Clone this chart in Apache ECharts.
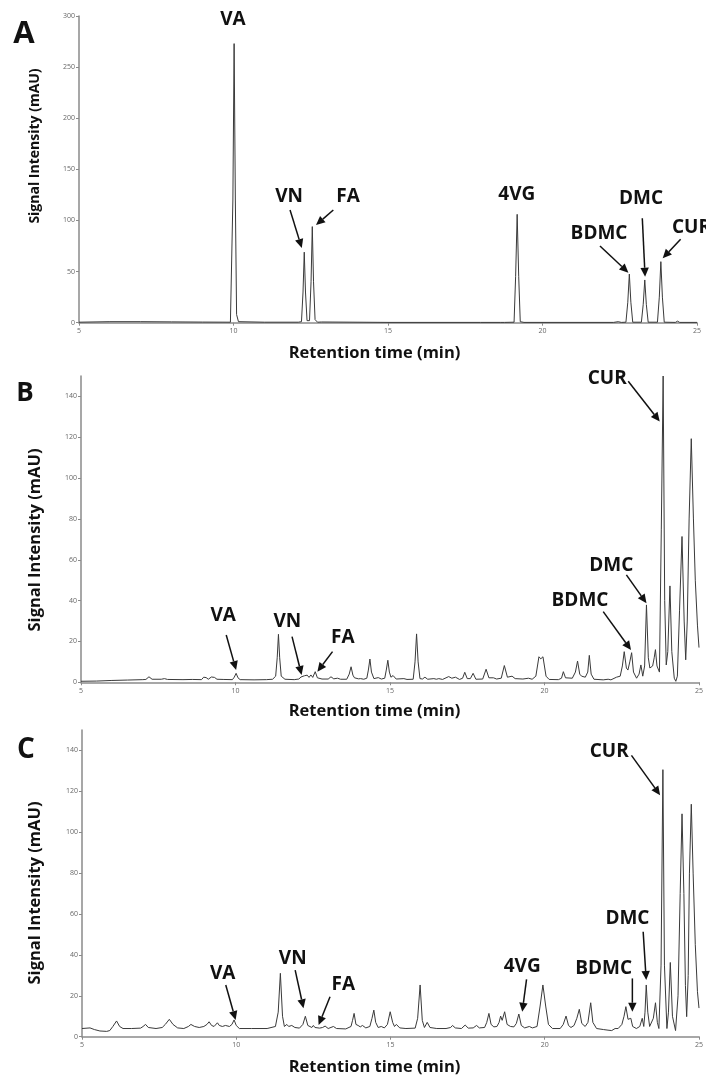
<!DOCTYPE html>
<html><head><meta charset="utf-8">
<script src="https://cdn.jsdelivr.net/npm/echarts@6/dist/echarts.min.js"></script>
<style>html,body{margin:0;padding:0;background:#fff}#c{width:706px;height:1076px}</style>
</head><body><div id="c"></div>
<script>
// ---------- tick labels ----------
const xTicks = [5, 10, 15, 20, 25];
const yTicksA = [0, 50, 100, 150, 200, 250, 300];
const yTicksBC = [0, 20, 40, 60, 80, 100, 120, 140];

// ---------- chromatogram traces [retention time (min), signal (mAU)] ----------
const traceA = [
  [5,0.5],[6,1],[7,1],[8,0.8],[9,0.6],[9.9,0.5],
  [9.94,2],[9.98,120],[10.02,273],[10.06,120],[10.1,8],[10.16,1],
  [11,0.5],[12.1,0.5],
  [12.2,1],[12.25,30],[12.29,69],[12.33,30],[12.38,2],
  [12.46,2],[12.51,40],[12.55,94],[12.59,40],[12.64,3],[12.72,0.5],[12.85,0.7],[12.9,0.3],
  [15,0.3],[18,0.3],[18.65,0.3],[18.71,1.5],[18.77,0.3],
  [19.08,0.5],[19.13,45],[19.18,106],[19.23,45],[19.28,1],[19.4,0.3],
  [22.3,0.3],[22.45,1],[22.55,0.3],
  [22.7,0.5],[22.76,20],[22.81,47.6],[22.86,20],[22.92,0.5],
  [23.2,0.5],[23.26,18],[23.31,41.8],[23.36,18],[23.42,0.5],
  [23.72,0.5],[23.78,25],[23.83,59.7],[23.88,25],[23.94,0.5],
  [24.3,0.3],[24.37,1.5],[24.44,0.3],[25,0.3]
];
const traceB = [
  [5,0.5],[5.5,0.6],[6,0.9],[6.5,1.1],[7,1.3],
  [7.1,1.4],[7.2,2.7],[7.3,1.5],[7.6,1.5],[7.7,1.8],[7.8,1.4],[8.3,1.3],[8.6,1.4],[8.9,1.3],
  [8.97,2.5],[9.01,1.6],[9.05,2.3],[9.12,1.5],[9.22,2.6],[9.27,1.8],[9.32,2.4],[9.4,1.5],[9.6,1.4],[9.9,1.3],
  [9.96,2.5],[10.02,4.4],[10.08,2.2],[10.15,1.3],[10.6,1.2],[11,1.3],[11.2,1.5],[11.3,3],
  [11.35,12],[11.39,23.5],[11.43,12],[11.48,3],[11.6,1.5],[11.9,1.3],[12.05,1.6],
  [12.12,2.6],[12.17,1.8],[12.23,3.2],[12.28,2.3],[12.32,3.5],[12.38,2.4],[12.44,3.6],[12.5,2.4],
  [12.58,5.2],[12.65,2.2],[12.8,1.6],
  [13.0,1.6],[13.09,2.7],[13.18,1.7],[13.3,2],[13.4,1.5],[13.6,1.5],[13.68,4],[13.74,7.6],[13.8,3.5],
  [13.85,2.2],[13.91,2.5],[13.98,1.7],[14.05,1.8],[14.15,1.5],[14.25,2],
  [14.3,6],[14.35,11.4],[14.4,5],[14.48,1.8],[14.62,2.3],[14.72,1.6],[14.83,2],[14.88,6],[14.93,10.8],
  [14.98,5],[15.03,2.5],[15.1,3.3],[15.2,1.6],[15.45,1.8],[15.55,1.4],[15.75,1.5],
  [15.81,10],[15.86,23.7],[15.91,10],[15.97,1.8],[16.05,1.6],[16.13,2.5],[16.22,1.5],[16.42,1.8],
  [16.5,1.5],[16.58,1.8],[16.7,1.4],[16.9,2.8],[17.0,2],[17.12,2.5],[17.25,1.4],[17.35,2],[17.42,4.9],
  [17.5,1.8],[17.6,1.8],[17.69,4.4],[17.78,1.5],[18.0,1.6],[18.11,6.4],[18.2,2.2],[18.35,2.2],
  [18.45,1.6],[18.6,2],[18.7,8.2],[18.8,2.5],[18.95,3],[19.05,1.8],[19.3,1.6],[19.48,2],[19.6,1.5],
  [19.72,3],[19.82,12.5],[19.88,11.5],[19.95,12.5],[20.05,3],[20.15,1.4],[20.45,1.3],[20.55,2],
  [20.61,5.2],[20.68,2.2],[20.9,2],[21.0,5],[21.07,10.4],[21.14,4],[21.2,3],[21.26,3.3],[21.32,2.5],
  [21.4,5],[21.45,13.2],[21.51,4],[21.6,1.5],[21.9,1.2],[22.06,1.5],[22.15,1.2],[22.33,2.5],
  [22.45,3],[22.52,8],[22.58,15],[22.65,7],[22.7,6],[22.76,10],[22.82,14.5],[22.88,5],[22.98,2],
  [23.06,4],[23.12,8.5],[23.18,3],[23.24,8],[23.3,37.9],[23.36,12],[23.41,7],[23.44,7.5],[23.5,8],
  [23.55,12],[23.59,16],[23.64,8],[23.72,5],[23.78,75],[23.84,150],[23.89,40],[23.94,8.5],
  [23.99,15],[24.06,47.2],[24.12,15],[24.2,2],[24.25,0.5],[24.3,3],[24.37,35],[24.45,71.4],
  [24.52,30],[24.57,11],[24.62,30],[24.68,80],[24.75,119.3],[24.82,80],[24.88,50],[24.95,28],[25,17]
];
const traceC = [
  [5,4],[5.26,4.3],[5.4,3.5],[5.58,2.8],[5.8,2.6],[5.9,3],[6.0,5],[6.12,7.7],[6.22,5],[6.33,4],
  [6.6,4],[6.9,4.2],[6.98,5],[7.06,6],[7.15,4.5],[7.4,4],[7.6,4.5],[7.7,6],[7.83,8.5],[7.95,6],
  [8.1,4.3],[8.3,4],[8.45,5],[8.53,6],[8.65,5],[8.8,4.5],[8.95,5],[9.05,6],[9.12,7.3],[9.2,5.5],
  [9.28,5],[9.34,5.8],[9.39,6.8],[9.45,5.5],[9.55,5],[9.65,5.5],[9.71,6],[9.78,5],[9.86,6],
  [9.93,8.2],[10.0,5.5],[10.1,4],[10.5,4],[11.0,4],[11.27,5],[11.36,12],[11.43,31],[11.5,10],
  [11.56,5],[11.64,6],[11.7,5],[11.8,5.5],[11.9,4.5],[12.05,4.2],[12.16,6],[12.24,10],[12.32,5.5],
  [12.45,4.5],[12.5,5.5],[12.55,4.5],[12.61,5],[12.7,4.2],[12.8,4.5],[12.88,5.2],[12.98,4],
  [13.15,5],[13.25,4],[13.55,3.8],[13.72,5],[13.77,8],[13.82,11.4],[13.88,6],[13.95,5.5],
  [14.02,4.8],[14.09,5.5],[14.2,4.3],[14.33,5],[14.4,9],[14.46,13],[14.52,7],[14.6,4.5],[14.7,5],
  [14.8,4.3],[14.9,6],[14.99,12.2],[15.07,7],[15.13,5],[15.19,6],[15.3,4.3],[15.5,4],[15.8,4.2],
  [15.88,9],[15.96,25.3],[16.03,8],[16.1,4.5],[16.19,7],[16.28,4.5],[16.5,4],[16.8,4],[16.95,4.5],
  [17.01,5.5],[17.1,4.3],[17.3,4],[17.42,5.7],[17.52,4.2],[17.68,4.3],[17.79,5.5],[17.88,4.3],
  [18.05,4.5],[18.12,7],[18.19,11.4],[18.26,6],[18.35,4.8],[18.45,5],[18.52,7],[18.57,10.1],
  [18.62,8],[18.7,12.2],[18.78,6],[18.89,5],[19.0,4.8],[19.08,6.5],[19.16,11.1],[19.24,5.5],
  [19.35,4.3],[19.5,5],[19.6,4.3],[19.75,5],[19.85,15],[19.94,25.3],[20.03,15],[20.12,6],
  [20.25,4],[20.5,4],[20.6,6],[20.69,10.1],[20.77,5.5],[20.85,4.5],[20.95,5.5],[21.04,9],
  [21.12,13.4],[21.2,6.5],[21.31,5],[21.4,7],[21.49,16.6],[21.56,7],[21.68,4],[21.9,3.5],
  [22.05,3.2],[22.17,3],[22.28,4],[22.38,4],[22.5,6],[22.57,10],[22.63,14.7],[22.7,8.5],
  [22.74,8],[22.79,9],[22.85,5],[22.97,4],[23.08,5],[23.16,9],[23.21,5],[23.25,12],[23.29,25.3],
  [23.34,12],[23.4,5],[23.45,5],[23.52,9],[23.59,16.6],[23.65,7],[23.7,4],[23.77,35],
  [23.83,130.6],[23.88,35],[23.96,4],[24.01,12],[24.07,36.3],[24.14,10],[24.24,3],[24.32,20],
  [24.39,70],[24.45,109],[24.51,70],[24.56,25],[24.6,9.8],[24.65,30],[24.69,80],[24.75,113.7],
  [24.81,80],[24.88,45],[24.95,22],[25,14]
];

// ---------- peak annotations (data coordinates) ----------
const labelsA = [
  ['VA',[9.98,296]],['VN',[11.80,123]],['FA',[13.71,123]],['4VG',[19.17,125]],
  ['BDMC',[21.83,86.8]],['DMC',[23.19,121]],['CUR',[24.19,92.6],'left']
];
const arrowsA = [
  [[11.83,110.2],[12.21,73.1]],[[13.23,110.2],[12.67,95.6]],
  [[21.86,75],[22.78,48.9]],[[23.23,102.1],[23.32,45]],[[24.47,81.6],[23.89,63]]
];
const labelsB = [
  ['VA',[9.6,32.7]],['VN',[11.68,29.6]],['FA',[13.47,22]],
  ['CUR',[22.03,148.7]],['DMC',[22.16,57.3]],['BDMC',[21.15,40.1]]
];
const arrowsB = [
  [[9.7,23.2],[10.02,6.0]],[[11.83,22.4],[12.14,3.6]],[[13.14,15],[12.65,5.2]],
  [[22.71,147.4],[23.73,127.7]],[[22.65,52.6],[23.3,38.7]],[[21.9,34.6],[22.8,15.8]]
];
const labelsC = [
  ['VA',[9.56,30.9]],['VN',[11.83,38.2]],['FA',[13.47,25.3]],['4VG',[19.27,34.3]],
  ['BDMC',[21.91,33.3]],['DMC',[22.68,58]],['CUR',[22.09,139.3]]
];
const arrowsC = [
  [[9.66,25.3],[9.98,8.2]],[[11.91,32.6],[12.18,13.9]],[[13.04,19.5],[12.67,5.7]],
  [[19.41,28],[19.27,12.2]],[[22.84,28.5],[22.84,12.2]],[[23.19,51.3],[23.29,27.7]],
  [[22.81,137.6],[23.74,118.1]]
];

const xTitle = 'Retention time (min)';
const yTitle = 'Signal Intensity (mAU)';

// ---------- chart ----------
const FONT = '"Open Sans", "Noto Sans", sans-serif';
const chart = echarts.init(document.getElementById('c'), null, {renderer: 'canvas'});

const grids = [
  {left: 79, right: 9, top: 16, height: 306.7},
  {left: 81, right: 5, top: 376, height: 306.3},
  {left: 82, right: 3, top: 730, height: 306.7}
];

function xAxis(i) {
  return {
    type: 'value', gridIndex: i, min: 5, max: 25, interval: 5,
    axisLine: {lineStyle: {color: '#8a8a8a', width: 1.5}},
    axisTick: {show: true, length: 3, lineStyle: {color: '#8a8a8a'}, customValues: xTicks},
    axisLabel: {fontSize: 7, color: '#666', margin: 5, fontFamily: FONT, customValues: xTicks},
    splitLine: {show: false}
  };
}
function yAxis(i, max, interval, ticks) {
  return {
    type: 'value', gridIndex: i, min: 0, max: max, interval: interval,
    axisLine: {show: true, lineStyle: {color: '#8a8a8a', width: 1.5}},
    axisTick: {show: true, length: 3, lineStyle: {color: '#8a8a8a'}, customValues: ticks},
    axisLabel: {fontSize: 7, color: '#666', margin: 4, fontFamily: FONT, customValues: ticks},
    splitLine: {show: false}
  };
}
function series(i, data) {
  return {
    type: 'line', xAxisIndex: i, yAxisIndex: i, data: data,
    showSymbol: false, symbol: 'none', smooth: false,
    lineStyle: {color: '#3a3a3a', width: 1}, animation: false
  };
}

chart.setOption({
  animation: false,
  backgroundColor: '#fff',
  grid: grids,
  xAxis: [xAxis(0), xAxis(1), xAxis(2)],
  yAxis: [yAxis(0, 300, 50, yTicksA), yAxis(1, 150, 20, yTicksBC), yAxis(2, 150, 20, yTicksBC)],
  series: [series(0, traceA), series(1, traceB), series(2, traceC)]
});

function txt(text, x, y, size, align, rot) {
  return {
    type: 'text', x: x, y: y, rotation: rot || 0, z: 100,
    style: {
      text: text, fill: '#111', fontSize: size, fontWeight: 'bold', fontFamily: FONT,
      align: align || 'center', verticalAlign: 'middle',
      textAlign: align || 'center', textVerticalAlign: 'middle'
    }
  };
}
function annot(gi, labels, arrows) {
  const out = [];
  labels.forEach(l => {
    const p = chart.convertToPixel({gridIndex: gi}, l[1]);
    out.push(txt(l[0], p[0], p[1], 19, l[2] || 'center'));
  });
  arrows.forEach(a => {
    const p1 = chart.convertToPixel({gridIndex: gi}, a[0]);
    const p2 = chart.convertToPixel({gridIndex: gi}, a[1]);
    const dx = p2[0] - p1[0], dy = p2[1] - p1[1], L = Math.hypot(dx, dy);
    const ux = dx / L, uy = dy / L, hl = 9, hw = 4.2;
    const bx = p2[0] - ux * hl, by = p2[1] - uy * hl;
    out.push({type: 'line', z: 100, shape: {x1: p1[0], y1: p1[1], x2: bx, y2: by},
      style: {stroke: '#111', lineWidth: 1.5}});
    out.push({type: 'polygon', z: 100,
      shape: {points: [[p2[0], p2[1]], [bx - uy * hw, by + ux * hw], [bx + uy * hw, by - ux * hw]]},
      style: {fill: '#111'}});
  });
  return out;
}

const graphics = []
  .concat(annot(0, labelsA, arrowsA))
  .concat(annot(1, labelsB, arrowsB))
  .concat(annot(2, labelsC, arrowsC))
  .concat([
    txt('A', 24, 34, 31), txt('B', 25, 394, 26), txt('C', 26, 750, 28),
    txt(xTitle, 374.5, 353, 16.5), txt(xTitle, 374.5, 711, 16.5), txt(xTitle, 374.5, 1067, 16.5),
    txt(yTitle, 35, 146, 14, 'center', Math.PI / 2),
    txt(yTitle, 35, 540, 16.5, 'center', Math.PI / 2),
    txt(yTitle, 35, 893, 16.5, 'center', Math.PI / 2)
  ]);
chart.setOption({graphic: graphics});
</script>
</body></html>
